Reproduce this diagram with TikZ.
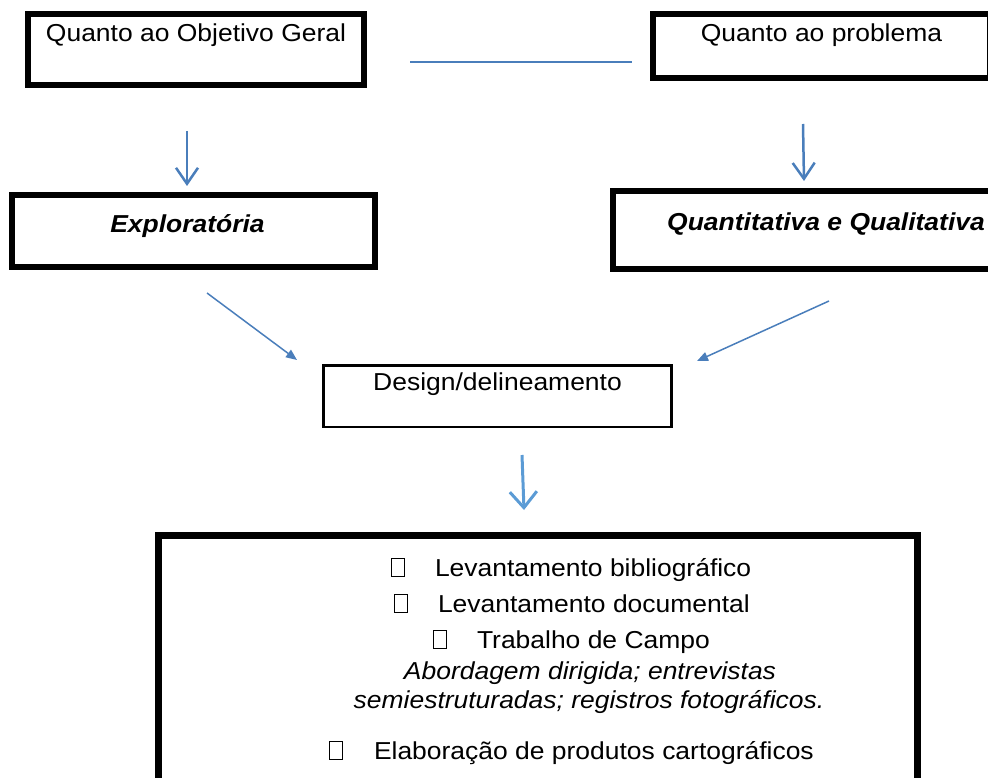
\documentclass[tikz,border=0pt]{standalone}
\usepackage{fontspec}
\setmainfont{Liberation Sans}[FakeStretch=1.08]
\usetikzlibrary{arrows.meta}
\definecolor{azul}{HTML}{4A7EBB}
\definecolor{azulclaro}{HTML}{5B9BD5}
\newcommand{\tofu}{{\setlength{\fboxsep}{0pt}\setlength{\fboxrule}{0.9pt}\fbox{\rule{0pt}{17pt}\hspace{12pt}}}}

\begin{document}
\begin{tikzpicture}[x=1pt,y=-1pt,font=\fontsize{24.5}{29}\selectfont]
    \tikzstyle{grossa}=[rectangle,draw,line width=6pt,inner sep=0pt,outer sep=0pt,anchor=north west]
    \tikzstyle{fina}=[rectangle,draw,line width=2.5pt,inner sep=0pt,outer sep=0pt,anchor=north west]
    \tikzstyle{item}=[inner sep=0pt,anchor=base west]
    \tikzstyle{linha}=[azul,line width=1.5pt]
    \tikzstyle{seta}=[azul,line width=2.5pt,-{Straight Barb[length=16pt,width=22pt]}]
    \tikzstyle{setad}=[azul,line width=1.5pt,-{Triangle[length=11pt,width=9pt]}]
    \useasboundingbox (0,0) rectangle (988,778);
    \node (objetivo) at (28,14) [grossa,minimum width=336pt,text height=28pt,text depth=43pt] {Quanto ao Objetivo Geral};
    \node (problema) at (653,14) [grossa,minimum width=337pt,text height=28pt,text depth=36pt] {Quanto ao problema};
    \node (explor) at (12,195) [grossa,minimum width=363pt,text height=38pt,text depth=34pt] {\textbf{\textit{Exploratória}}\hspace*{12pt}};
    \node (quanti) at (613,191) [grossa,minimum width=426pt,text height=39pt,text depth=39pt] {\textbf{\textit{Quantitativa e Qualitativa}}};
    \node (design) at (323.5,365.5) [fina,minimum width=348pt,text height=24.5pt,text depth=37pt] {Design/delineamento};
    \node (metodos) at (158.5,535.5) [grossa,line width=7pt,minimum width=759pt,minimum height=280pt] {};
    \node (lev1) at (391,576) [item] {\tofu\hspace{30pt}Levantamento bibliográfico};
    \node (lev2) at (394,612) [item] {\tofu\hspace{30pt}Levantamento documental};
    \node (campo) at (433,648) [item] {\tofu\hspace{30pt}Trabalho de Campo};
    \node (abord) at (590,679) [inner sep=0pt,anchor=base] {\textit{Abordagem dirigida; entrevistas}};
    \node (semi) at (589,708) [inner sep=0pt,anchor=base] {\textit{semiestruturadas; registros fotográficos.}};
    \node (elab) at (329,759) [item] {\tofu\hspace{31pt}Elaboração de produtos cartográficos};
    % ligacoes
    \coordinate (h1) at (410,62);
    \coordinate (h2) at (632,62);
    \coordinate (v1a) at (187,131);
    \coordinate (v1b) at (187,186);
    \coordinate (v2a) at (803,124);
    \coordinate (v2b) at (804,181);
    \coordinate (d1a) at (207,293);
    \coordinate (d1b) at (297,360);
    \coordinate (d2a) at (829,301);
    \coordinate (d2b) at (697,361);
    \coordinate (v3a) at (522,455);
    \coordinate (v3b) at (524,510);
    \draw [linha] (h1) -- (h2);
    \draw [seta] (v1a) -- (v1b);
    \draw [seta] (v2a) -- (v2b);
    \draw [setad] (d1a) -- (d1b);
    \draw [setad] (d2a) -- (d2b);
    \draw [seta,azulclaro,line width=3pt,-{Straight Barb[length=16pt,width=27pt]}] (v3a) -- (v3b);
\end{tikzpicture}
\end{document}
